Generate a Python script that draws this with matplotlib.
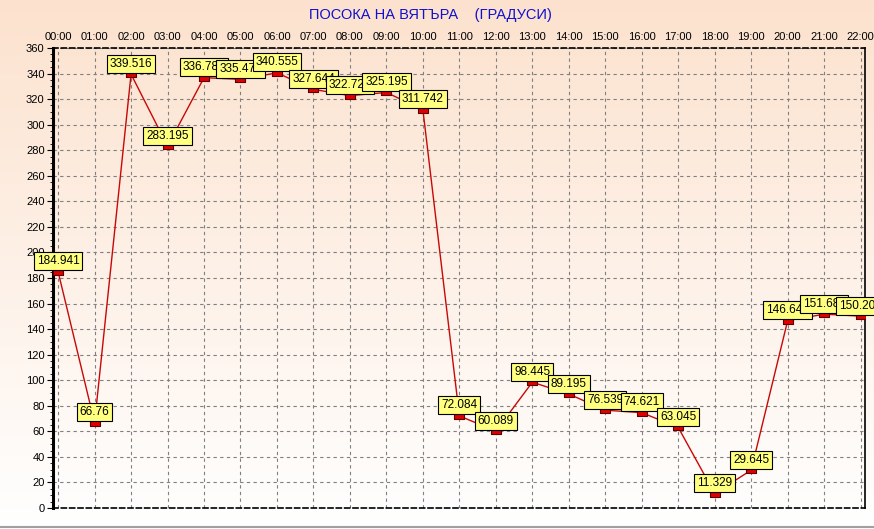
import numpy as np
import matplotlib
matplotlib.use('Agg')
import matplotlib.pyplot as plt
from matplotlib.ticker import MultipleLocator

# hourly wind direction, degrees
hours = ['00:00', '01:00', '02:00', '03:00', '04:00', '05:00', '06:00', '07:00',
         '08:00', '09:00', '10:00', '11:00', '12:00', '13:00', '14:00', '15:00',
         '16:00', '17:00', '18:00', '19:00', '20:00', '21:00', '22:00']
direction = [184.941, 66.76, 339.516, 283.195, 336.781, 335.477, 340.555, 327.644,
             322.723, 325.195, 311.742, 72.084, 60.089, 98.445, 89.195, 76.539,
             74.621, 63.045, 11.329, 29.645, 146.646, 151.683, 150.203]
labels = ['184.941', '66.76', '339.516', '283.195', '336.781', '335.477', '340.555',
          '327.644', '322.723', '325.195', '311.742', '72.084', '60.089', '98.445',
          '89.195', '76.539', '74.621', '63.045', '11.329', '29.645', '146.646',
          '151.683', '150.203']

plt.rcParams['font.family'] = ['Liberation Sans', 'DejaVu Sans']

fig = plt.figure(figsize=(8.74, 5.29), dpi=100)

# background gradient, peach at the top to white at the bottom
bg = fig.add_axes([0, 0, 1, 1], zorder=-5)
grad = np.linspace(0, 1, 256).reshape(-1, 1)
top = np.array([252, 226, 206]) / 255
bot = np.array([255, 255, 255]) / 255
img = top + (bot - top) * grad[:, :, None]
bg.imshow(img, aspect='auto', extent=[0, 1, 0, 1])
bg.axis('off')
bg.plot([0, 1], [0.004, 0.004], color='#a0a0a0', lw=1.5, transform=bg.transAxes)

W, H = 874, 529
ax = fig.add_axes([53 / W, (H - 508) / H, (865 - 53) / W, (508 - 48) / H])
ax.set_facecolor('none')

x = np.arange(len(hours))
verts = [(-1, -0.6), (1, -0.6), (1, 0.6), (-1, 0.6), (-1, -0.6)]
ax.plot(x, direction, color='#c80808', lw=1, zorder=3)
ax.plot(x, direction, ls='none', marker=verts, markersize=7.5,
        markerfacecolor='#e00000', markeredgecolor='#600000', markeredgewidth=0.8, zorder=4)

for i in range(len(x)):
    ax.annotate(labels[i], (x[i], direction[i]), xytext=(0, 3.2), textcoords='offset points',
                ha='center', va='bottom', fontsize=8.5, zorder=5,
                bbox=dict(boxstyle='square,pad=0.25', fc='#ffff80', ec='black', lw=0.8))

ax.set_xlim(-0.14, 22.12)
ax.set_ylim(0, 360)
ax.set_xticks(x)
ax.set_xticklabels(hours)
ax.yaxis.set_major_locator(MultipleLocator(20))
ax.yaxis.set_minor_locator(MultipleLocator(5))
ax.xaxis.tick_top()
ax.tick_params(axis='x', length=0, labelsize=8, pad=4)
ax.tick_params(axis='y', which='major', length=4, labelsize=8, pad=2)
ax.tick_params(axis='y', which='minor', length=2)

ax.grid(True, color='#808080', ls=(0, (3, 3)), lw=0.8)

ax.spines['left'].set_linewidth(2.2)
ax.spines['right'].set_linewidth(1.2)
ax.spines['top'].set_linestyle((0, (3, 2)))
ax.spines['top'].set_linewidth(1.2)
ax.spines['bottom'].set_linestyle((0, (3, 2)))
ax.spines['bottom'].set_linewidth(1.2)

fig.text(0.493, 1 - 15 / H, 'ПОСОКА НА ВЯТЪРА    (ГРАДУСИ)', color='#1010d0',
         fontsize=10.5, ha='center', va='center')

fig.savefig('out.png', dpi=100)
